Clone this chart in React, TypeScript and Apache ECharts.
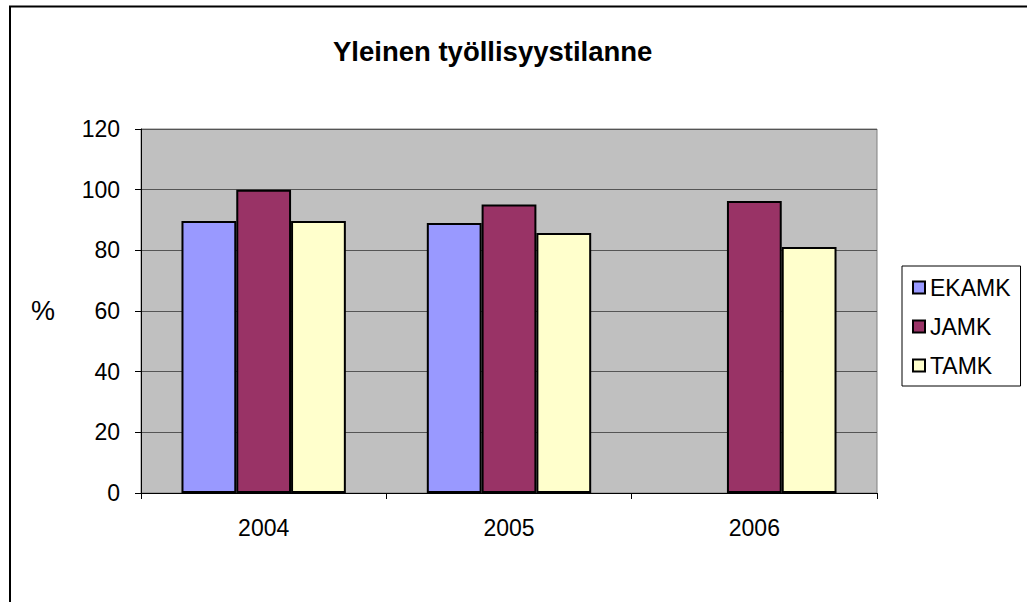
import React, { useEffect, useRef } from "react";
import * as echarts from "echarts";

const categories = ["2004", "2005", "2006"];
const ekamk: (number | null)[] = [89.7, 89.0, null];
const jamk = [100, 95.1, 96.3];
const tamk = [89.7, 85.7, 81.1];
const seriesNames = ["EKAMK", "JAMK", "TAMK"];
const seriesColors = ["#9999FF", "#993366", "#FFFFCC"];
const yTicks = { min: 0, max: 120, interval: 20 };
const titleText = "Yleinen työllisyystilanne";
const yName = "%";

const FONT = "'Liberation Sans', Arial, sans-serif";

export default function App() {
  const ref = useRef<HTMLDivElement>(null);
  useEffect(() => {
    if (!ref.current) return;
    const chart = echarts.init(ref.current, undefined, { renderer: "svg" });
    const data = [ekamk, jamk, tamk];
    chart.setOption({
      animation: false,
      backgroundColor: "#ffffff",
      textStyle: { fontFamily: FONT, color: "#000" },
      title: {
        text: titleText,
        left: 333,
        top: 37,
        padding: 0,
        textStyle: { fontFamily: FONT, fontSize: 27.5, fontWeight: "bold", color: "#000" },
      },
      legend: {
        orient: "vertical",
        left: 902,
        top: 266,
        padding: [10, 10, 9, 10],
        itemGap: 16,
        itemWidth: 12,
        itemHeight: 12,
        icon: "rect",
        borderColor: "#000",
        borderWidth: 1,
        backgroundColor: "#fff",
        textStyle: { fontFamily: FONT, fontSize: 23, color: "#000", padding: [0, 0, 0, 0] },
        data: seriesNames,
      },
      graphic: [
        {
          type: "rect",
          shape: { x: 10, y: 6.5, width: 1100, height: 700 },
          style: { fill: "none", stroke: "#000", lineWidth: 2 },
          silent: true,
          z: 100,
        },
      ],
      grid: {
        left: 141,
        right: 150,
        top: 129,
        bottom: 109,
        show: true,
        backgroundColor: "#C0C0C0",
        borderColor: "#808080",
        borderWidth: 1,
        containLabel: false,
      },
      xAxis: {
        type: "category",
        data: categories,
        axisLine: { show: true, lineStyle: { color: "#000", width: 1 } },
        axisTick: { show: true, length: 6, alignWithLabel: false, lineStyle: { color: "#000" } },
        axisLabel: { fontFamily: FONT, fontSize: 23, color: "#000", margin: 23 },
        splitLine: { show: false },
      },
      yAxis: {
        type: "value",
        min: yTicks.min,
        max: yTicks.max,
        interval: yTicks.interval,
        name: yName,
        nameLocation: "middle",
        nameRotate: 0,
        nameGap: 86,
        nameTextStyle: { fontFamily: FONT, fontSize: 27, color: "#000" },
        axisLine: { show: true, lineStyle: { color: "#000", width: 1 } },
        axisTick: { show: true, length: 6, lineStyle: { color: "#000" } },
        axisLabel: { fontFamily: FONT, fontSize: 23, color: "#000", margin: 21 },
        splitLine: { show: true, lineStyle: { color: "#555", width: 1 } },
      },
      series: seriesNames.map((name, i) => ({
        name,
        type: "bar",
        data: data[i],
        barGap: "0%",
        barCategoryGap: "33%",
        itemStyle: { color: seriesColors[i], borderColor: "#000", borderWidth: 2 },
      })),
    });
    return () => chart.dispose();
  }, []);
  return (
    <div
      ref={ref}
      style={{ position: "absolute", left: 0, top: 0, width: 1027, height: 602, background: "#fff" }}
    />
  );
}
